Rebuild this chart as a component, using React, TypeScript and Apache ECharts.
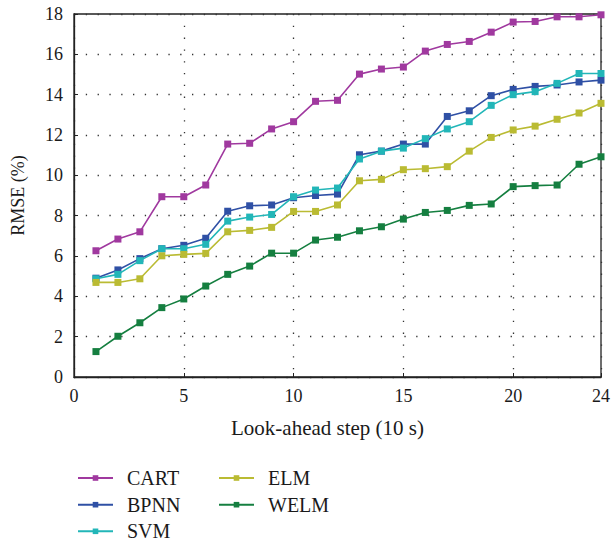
import React, { useEffect, useRef } from "react";
import * as echarts from "echarts";

const steps = [1, 2, 3, 4, 5, 6, 7, 8, 9, 10, 11, 12, 13, 14, 15, 16, 17, 18, 19, 20, 21, 22, 23, 24];
const seriesNames = ["CART", "BPNN", "SVM", "ELM", "WELM"];
const CART = [6.26, 6.84, 7.2, 8.94, 8.94, 9.52, 11.55, 11.59, 12.3, 12.66, 13.67, 13.72, 15.02, 15.27, 15.37, 16.16, 16.49, 16.64, 17.1, 17.6, 17.63, 17.86, 17.86, 17.96];
const BPNN = [4.9, 5.31, 5.87, 6.36, 6.53, 6.88, 8.22, 8.49, 8.53, 8.89, 9.0, 9.07, 11.02, 11.2, 11.55, 11.55, 12.92, 13.2, 13.95, 14.26, 14.41, 14.48, 14.63, 14.72];
const SVM = [4.87, 5.09, 5.77, 6.36, 6.36, 6.58, 7.73, 7.93, 8.06, 8.94, 9.27, 9.37, 10.81, 11.2, 11.35, 11.82, 12.3, 12.66, 13.47, 14.0, 14.15, 14.56, 15.05, 15.05];
const ELM = [4.69, 4.69, 4.87, 6.01, 6.08, 6.13, 7.2, 7.27, 7.42, 8.21, 8.21, 8.53, 9.73, 9.8, 10.28, 10.33, 10.43, 11.2, 11.88, 12.25, 12.44, 12.78, 13.09, 13.57];
const WELM = [1.26, 2.02, 2.69, 3.44, 3.87, 4.51, 5.09, 5.5, 6.14, 6.14, 6.79, 6.93, 7.25, 7.45, 7.83, 8.16, 8.26, 8.51, 8.58, 9.44, 9.49, 9.52, 10.55, 10.92];
const seriesValues = [CART, BPNN, SVM, ELM, WELM];
const colors = ["#a0399f", "#2f50a5", "#22b6b8", "#babb33", "#157f40"];

const FONT = "Liberation Serif";

export default function App() {
  const ref = useRef<HTMLDivElement>(null);
  useEffect(() => {
    if (!ref.current) return;
    const chart = echarts.init(ref.current, null, { renderer: "svg" });
    const dotted = { color: "#333", width: 1.3, type: [1.3, 10.5] as any };
    const legendBase = {
      orient: "horizontal",
      padding: 0,
      itemWidth: 35,
      itemHeight: 7,
      textStyle: { fontFamily: FONT, fontSize: 20, color: "#1a1a1a", lineHeight: 16, padding: [0, 0, 0, 9] },
    };
    // legend slots: [column left, row center]
    const legendPos = [
      [77, 476],
      [77, 502.7],
      [77, 529.3],
      [218, 476],
      [218, 502.7],
    ];
    chart.setOption({
      animation: false,
      color: colors,
      grid: {
        left: 74,
        right: 10,
        top: 14,
        bottom: 164,
        show: true,
        borderColor: "#222",
        borderWidth: 1.3,
        outerBoundsMode: "none",
      },
      legend: seriesNames.map((name, i) => ({
        ...legendBase,
        left: legendPos[i][0],
        top: legendPos[i][1] - 8,
        data: [name],
      })),
      xAxis: {
        type: "value",
        min: 0,
        max: 24,
        interval: 5,
        name: "Look-ahead step (10 s)",
        nameLocation: "middle",
        nameGap: 40,
        nameTextStyle: { fontFamily: FONT, fontSize: 21, color: "#1a1a1a", padding: [0, 20, 0, 0] },
        axisLine: { show: true, lineStyle: { color: "#222", width: 1.3 } },
        axisTick: { show: true, inside: true, length: 4, lineStyle: { color: "#222" } },
        axisLabel: { fontFamily: FONT, fontSize: 18, color: "#1a1a1a", margin: 10 },
        splitLine: { show: true, lineStyle: dotted },
      },
      yAxis: {
        type: "value",
        min: 0,
        max: 18,
        interval: 2,
        name: "RMSE (%)",
        nameLocation: "middle",
        nameGap: 47,
        nameTextStyle: { fontFamily: FONT, fontSize: 18, color: "#1a1a1a" },
        axisLine: { show: true, lineStyle: { color: "#222", width: 1.3 } },
        axisTick: { show: true, inside: true, length: 4, lineStyle: { color: "#222" } },
        axisLabel: { fontFamily: FONT, fontSize: 18, color: "#1a1a1a", margin: 11 },
        splitLine: { show: true, lineStyle: dotted },
      },
      series: seriesNames.map((name, i) => ({
        name,
        type: "line",
        data: steps.map((s, j) => [s, seriesValues[i][j]]),
        symbol: "rect",
        symbolSize: 7,
        lineStyle: { width: 1.6, color: colors[i] },
        itemStyle: { color: colors[i] },
        z: 2 + i,
      })),
    });
    return () => chart.dispose();
  }, []);
  return <div ref={ref} style={{ position: "absolute", left: 0, top: 0, width: 611, height: 541 }} />;
}
